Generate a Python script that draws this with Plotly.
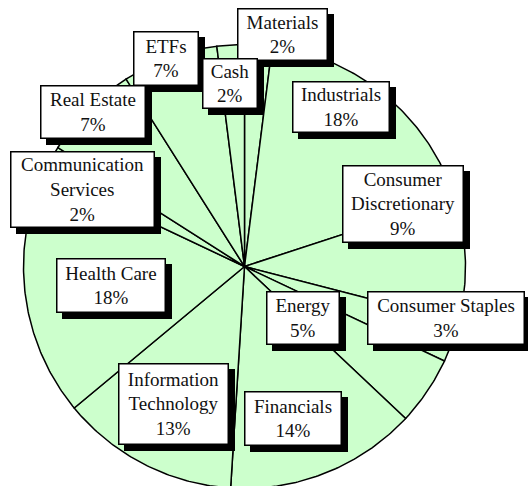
import numpy as np
import plotly.graph_objects as go

# ---- data ----
sectors = ["Materials", "Industrials", "Consumer Discretionary", "Consumer Staples",
           "Energy", "Financials", "Information Technology", "Health Care",
           "Communication Services", "Real Estate", "ETFs", "Cash"]
weights = [2, 18, 9, 3, 5, 14, 13, 18, 2, 7, 7, 2]
label_names = ["Materials", "Industrials", "Consumer<br>Discretionary", "Consumer Staples",
               "Energy", "Financials", "Information<br>Technology", "Health Care",
               "Communication<br>Services", "Real Estate", "ETFs", "Cash"]

# ---- layout constants ----
W, H = 528, 486
CX, CY = 244.5, 266.5      # pie centre in pixels
RX, RY = 221.0, 222.0      # pie radius in pixels
FILL = "#CCFFCC"
FONT = dict(family="Liberation Serif, Times New Roman, serif", size=19, color="#111111")
BW = 1.5
SHADOW = 6

# label boxes: left, top, right, bottom (pixels)
boxes = {
    "Materials": (237, 8, 328, 61),
    "Industrials": (292, 81, 390, 133),
    "Consumer Discretionary": (342, 165, 464, 243),
    "Consumer Staples": (367, 291, 525, 345),
    "Energy": (266, 291, 340, 345),
    "Financials": (244, 391, 342, 446),
    "Information Technology": (118, 363, 229, 445),
    "Health Care": (56, 258, 166, 313),
    "Communication Services": (10, 151, 155, 228),
    "Real Estate": (40, 85, 146, 139),
    "ETFs": (133, 31, 199, 86),
    "Cash": (202, 58, 258, 109),
}

fig = go.Figure()

total = float(sum(weights))
edges = np.concatenate([[0.0], np.cumsum(weights)]) / total * 2 * np.pi
for i, name in enumerate(sectors):
    t = np.linspace(edges[i], edges[i + 1], max(3, int(weights[i] * 6)))
    xs = np.concatenate([[0.0], np.sin(t), [0.0]])
    ys = np.concatenate([[0.0], np.cos(t), [0.0]])
    fig.add_trace(go.Scatter(
        x=xs, y=ys, mode="lines", fill="toself", fillcolor=FILL,
        line=dict(color="black", width=1.5), name=name, hoverinfo="name",
        showlegend=False))

annotations = []
# shadows first
for i, name in enumerate(sectors):
    l, t_, r, b = boxes[name]
    annotations.append(dict(
        x=(l + r) / 2 / W, y=1 - (t_ + b) / 2 / H, xref="paper", yref="paper",
        xanchor="center", yanchor="middle", showarrow=False, text=" ",
        width=(r - l) - 2 * BW, height=(b - t_) - 2 * BW,
        bgcolor="black", bordercolor="black", borderwidth=BW, borderpad=0,
        xshift=SHADOW, yshift=-SHADOW, font=FONT))
for i, name in enumerate(sectors):
    l, t_, r, b = boxes[name]
    annotations.append(dict(
        x=(l + r) / 2 / W, y=1 - (t_ + b) / 2 / H, xref="paper", yref="paper",
        xanchor="center", yanchor="middle", showarrow=False,
        text=f"{label_names[i]}<br>{weights[i]}%", align="center",
        width=(r - l) - 2 * BW, height=(b - t_) - 2 * BW,
        bgcolor="white", bordercolor="black", borderwidth=BW, borderpad=0,
        font=FONT))

fig.update_layout(
    width=W, height=H, margin=dict(l=0, r=0, t=0, b=0),
    paper_bgcolor="white", plot_bgcolor="white",
    xaxis=dict(range=[-CX / RX, (W - CX) / RX], visible=False, fixedrange=True),
    yaxis=dict(range=[(CY - H) / RY, CY / RY], visible=False, fixedrange=True),
    annotations=annotations, showlegend=False,
)

fig.write_html("out.html", config={"displayModeBar": False},
               post_script="document.body.style.margin='0';document.body.style.overflow='hidden';")
